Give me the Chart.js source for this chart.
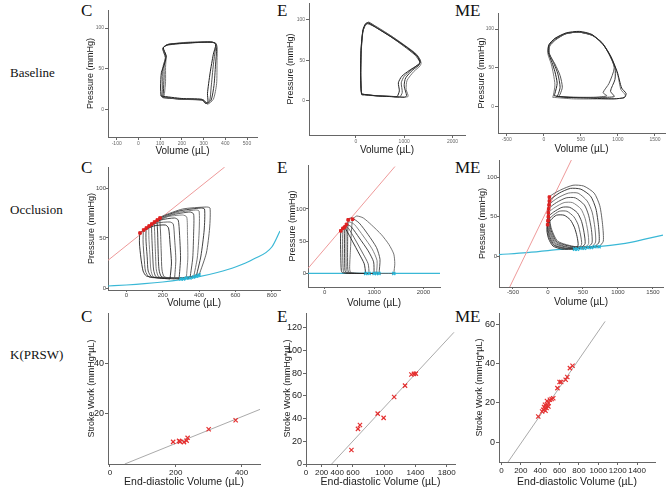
<!DOCTYPE html>
<html>
<head>
<meta charset="utf-8">
<script src="https://cdn.jsdelivr.net/npm/chart.js"></script>
<style>
  body { margin: 0; background: #fff; }
  #fig { position: relative; width: 669px; height: 489px; overflow: hidden; }
  #fig canvas { position: absolute; }
  .lbl { position: absolute; font-family: "Liberation Serif", serif; color: #111; line-height: 1; white-space: nowrap; }
</style>
</head>
<body>
<div id="fig"></div>
<script>
// ---- row / panel labels
const rowLabels = ['Baseline', 'Occlusion', 'K(PRSW)'];
const groupLabels = ['C', 'E', 'ME'];

// ---- Baseline PV loops (volume µL, pressure mmHg)
const cBaseLoops = [
  [[104,17],[200,14],[292,13],[308,8],[320,10],[318,20],[330,45],[345,68],[356,80],[340,83],[240,82],[140,80],[115,76],[128,66],[120,56],[106,46],[102,28],[104,17]],
  [[108,16],[200,13],[295,12],[312,8],[328,11],[335,28],[345,55],[355,75],[358,81],[330,83],[230,82],[135,80],[113,75],[126,65],[115,55],[110,45],[110,25],[108,16]],
  [[112,15],[200,13],[300,12],[316,8],[335,12],[348,30],[355,55],[360,76],[352,82],[250,82],[130,79],[112,75],[124,64],[118,54],[118,40],[115,22],[112,15]],
  [[116,15],[210,13],[300,12],[318,7],[345,13],[360,32],[362,60],[362,78],[350,82],[250,83],[135,80],[114,76],[127,66],[125,52],[125,35],[120,20],[116,15]]
];
const eBaseLoops = [
  [[120,8],[400,6],[700,5],[850,5],[900,12],[880,22],[950,30],[1100,37],[1280,44],[1330,47],[1270,55],[1050,66],[750,78],[450,89],[260,96],[200,95],[150,88],[110,65],[100,35],[108,15],[120,8]],
  [[125,7],[400,6],[750,5],[900,4],[960,10],[940,22],[1000,30],[1150,38],[1300,45],[1340,49],[1250,57],[1030,67],[750,79],[450,90],[270,97],[210,95],[150,86],[115,63],[105,35],[112,14],[125,7]],
  [[118,8],[420,6],[800,5],[1000,4],[1050,6],[1000,18],[1030,28],[1180,38],[1310,44],[1320,48],[1230,56],[1000,67],[720,79],[430,90],[250,95],[195,93],[140,84],[108,60],[98,30],[110,13],[118,8]],
  [[122,8],[450,6],[850,5],[1080,5],[1040,14],[1060,25],[1200,36],[1330,43],[1350,47],[1260,57],[1020,68],[730,80],[440,91],[265,96],[205,94],[150,87],[112,62],[103,32],[112,13],[122,8]]
];
const meBaseLoops = [
  [[140,14],[300,12],[600,11],[950,10],[1090,12],[1110,17],[1050,24],[990,45],[900,65],[800,80],[650,93],[480,97],[300,95],[150,88],[70,80],[60,70],[110,57],[150,45],[180,30],[150,17],[140,14]],
  [[200,13],[400,12],[700,12],[850,14],[800,18],[880,30],[950,50],[880,68],[780,83],[650,92],[470,96],[300,94],[160,86],[80,78],[75,68],[150,55],[220,40],[250,25],[220,16],[200,13]],
  [[170,13],[400,12],[750,12],[950,13],[900,20],[960,35],[960,50],[890,66],[790,82],[650,92],[470,96],[300,94],[160,87],[75,79],[68,70],[130,57],[190,42],[220,25],[190,15],[170,13]],
  [[120,12],[400,10],[800,10],[1080,11],[1100,15],[1040,22],[1000,40],[920,62],[820,78],[660,92],[480,96],[290,94],[140,87],[62,78],[55,68],[100,55],[130,42],[150,28],[130,15],[120,12]]
];

// ---- Occlusion PV loops + ESPVR / EDPVR
const cOccLoops = [
  [[240,9],[248,25],[240,45],[232,60],[215,63],[150,62],[90,57],[75,55],[72,45],[80,30],[92,17],[110,12],[180,10],[240,9]],
  [[265,9],[272,28],[265,50],[258,64],[240,66],[170,65],[110,60],[95,58],[92,46],[98,30],[105,17],[125,11],[200,10],[265,9]],
  [[290,9],[298,30],[292,55],[285,68],[265,70],[190,68],[125,62],[110,60],[108,48],[115,30],[120,17],[140,11],[220,10],[290,9]],
  [[330,10],[338,30],[336,55],[332,71],[310,73],[220,71],[140,64],[125,62],[124,50],[130,32],[135,18],[150,11],[250,10],[330,10]],
  [[350,10],[365,30],[370,55],[370,74],[350,76],[250,73],[155,66],[140,64],[140,52],[145,32],[150,18],[165,11],[270,10],[350,10]],
  [[370,11],[390,30],[400,55],[400,77],[380,78],[270,75],[170,68],[155,66],[156,54],[160,35],[165,18],[180,11],[280,10],[370,11]],
  [[385,12],[410,32],[428,58],[430,79],[410,80],[290,77],[185,70],[170,68],[172,55],[175,35],[180,18],[195,11],[300,10],[385,12]],
  [[400,13],[440,35],[458,60],[460,80],[440,81],[310,79],[200,72],[185,70],[188,56],[192,35],[196,18],[210,11],[320,10],[400,13]]
];
const cEsX = [75, 95, 110, 125, 140, 155, 170, 185];
const cEsY = [55, 58, 60, 62, 64, 66, 68, 70];
const cEdX = [300, 315, 330, 350, 370, 385, 400];
const cEdY = [9, 9, 10, 10, 11, 12, 13];
const cEspvrX = [-101, 541];
const cEspvrY = [27.7, 121];
const cEdpvrX = [-101, 0, 100, 200, 300, 400, 500, 600, 700, 800, 845];
const cEdpvrY = [2, 3, 4.3, 6, 8.3, 11.3, 15.5, 21, 29, 41, 57];

const eOccLoops = [
  [[830,0],[800,15],[700,30],[560,50],[430,68],[370,72],[335,68],[325,66],[320,50],[325,25],[335,5],[360,1],[600,0],[830,0]],
  [[900,0],[880,15],[780,30],[620,52],[480,70],[410,74],[380,72],[370,70],[362,50],[365,25],[375,5],[400,1],[650,0],[900,0]],
  [[1000,0],[990,18],[880,35],[700,55],[540,72],[450,76],[415,74],[407,72],[400,52],[402,25],[410,5],[440,1],[700,0],[1000,0]],
  [[1050,0],[1060,20],[960,38],[780,58],[600,76],[490,80],[450,78],[440,76],[432,55],[432,28],[440,6],[470,1],[750,0],[1050,0]],
  [[1100,0],[1120,22],[1050,40],[880,60],[700,78],[550,86],[490,85],[474,83],[465,60],[462,30],[468,6],[500,1],[800,0],[1100,0]],
  [[1400,0],[1420,15],[1400,30],[1300,45],[1150,60],[950,75],[780,86],[650,89],[590,86],[563,84],[540,65],[520,35],[505,8],[530,1],[900,0],[1400,0]]
];
const eEsX = [325, 370, 407, 440, 474, 563];
const eEsY = [66, 70, 72, 76, 83, 84];
const eEdX = [830, 900, 1000, 1050, 1100, 1400];
const eEdY = [0, 0, 0, 0, 0, 0];
const eEspvrX = [-340, 1423];
const eEspvrY = [7.8, 165.6];
const eEdpvrX = [-340, 2337];
const eEdpvrY = [0, 0];

const meOccLoops = [
  [[380,9],[430,14],[415,25],[380,36],[320,46],[230,52],[120,52],[40,46],[-5,40],[-15,32],[10,22],[70,13],[200,9],[380,9]],
  [[420,9],[480,15],[465,27],[430,40],[370,50],[270,57],[160,57],[60,51],[0,45],[-12,36],[15,24],[80,14],[220,10],[420,9]],
  [[470,10],[530,16],[515,30],[480,44],[420,55],[310,62],[200,62],[80,56],[5,50],[-10,40],[20,26],[90,14],[250,10],[470,10]],
  [[520,10],[580,16],[568,32],[530,48],[470,60],[350,68],[230,68],[100,62],[5,55],[-8,44],[25,28],[100,15],[280,10],[520,10]],
  [[570,11],[630,17],[620,34],[580,52],[520,65],[390,74],[260,74],[120,68],[10,60],[-5,48],[30,30],[110,16],[300,11],[570,11]],
  [[620,11],[680,18],[670,36],[630,56],[560,70],[430,80],[290,80],[140,74],[15,65],[0,52],[35,32],[120,17],[330,11],[620,11]],
  [[670,12],[730,18],[722,38],[685,60],[610,76],[470,85],[320,86],[160,80],[20,70],[5,56],[40,34],[130,18],[360,12],[670,12]],
  [[730,12],[790,19],[780,40],[740,64],[660,80],[510,89],[357,90],[180,84],[20,75],[10,60],[45,36],[140,19],[400,12],[730,12]]
];
const meEsX = [-5, 0, 5, 5, 10, 15, 20, 20];
const meEsY = [40, 45, 50, 55, 60, 65, 70, 75];
const meEdX = [380, 420, 470, 520, 570, 620, 670, 730];
const meEdY = [9, 9, 10, 10, 11, 11, 12, 12];
const meEspvrX = [-547, 334];
const meEspvrY = [-39, 122];
const meEdpvrX = [-700, -300, 0, 310, 500, 786, 1000, 1200, 1400, 1643];
const meEdpvrY = [2, 4.5, 7, 10, 11, 12.7, 15, 18, 22, 26.7];

// ---- PRSW: end-diastolic volume vs stroke work
const cEdv = [192, 210, 213, 225, 233, 236, 300, 382];
const cSw = [8.8, 9.2, 8.9, 8.7, 9.3, 10.4, 13.8, 17.4];
const cFitX = [45, 456];
const cFitY = [0, 21.7];
const eEdv = [581, 665, 690, 917, 993, 1128, 1267, 1348, 1381, 1405];
const eSw = [12.3, 30.9, 34.4, 44.4, 40.6, 59, 69, 78.8, 79.4, 79.6];
const eFitX = [328, 1893];
const eFitY = [0, 116];
const meEdv = [380, 420, 432, 440, 450, 455, 466, 470, 477, 485, 487, 500, 518, 535, 578, 600, 617, 663, 680, 707, 734];
const meSw = [13.1, 15.6, 16.5, 17.9, 19.1, 16, 17.4, 21, 18.6, 18.2, 20, 21.6, 22, 22.4, 27.6, 30.7, 30.7, 31.9, 33.3, 37.8, 39];
const meFitX = [68, 1070];
const meFitY = [-10.2, 61.7];

// ---- tick values
const pvYTicks = [0, 50, 100];
const cBaseXTicks = [-100, 0, 100, 200, 300, 400, 500];
const eXTicks = [0, 1000, 2000];
const meXTicks = [-500, 0, 500, 1000, 1500];
const cOccXTicks = [0, 200, 400, 600, 800];
const cPrswXTicks = [0, 200, 400];
const cPrswYTicks = [20, 40];
const ePrswXTicks = [0, 200, 400, 600, 1000, 1400, 1800];
const ePrswYTicks = [0, 20, 40, 60, 80, 100, 120];
const mePrswXTicks = [0, 200, 400, 600, 800, 1000, 1200, 1400];
const mePrswYTicks = [0, 20, 40, 60];

const fig = document.getElementById('fig');
const pairs = arr => arr.map(([x, y]) => ({ x, y }));
const zip = (xs, ys) => xs.map((x, i) => ({ x, y: ys[i] }));
const loopGrays = ['#222', '#555', '#333', '#777', '#444', '#666', '#2a2a2a', '#555'];

function label(text, left, top, size) {
  const d = document.createElement('div');
  d.className = 'lbl';
  d.textContent = text;
  d.style.left = left + 'px';
  d.style.top = top + 'px';
  d.style.fontSize = size + 'px';
  fig.appendChild(d);
}

function loopSets(loops, width) {
  return loops.map((l, i) => ({
    data: pairs(l), showLine: true, borderColor: loopGrays[i % loopGrays.length],
    borderWidth: width, tension: 0.22, pointRadius: 0
  }));
}
function lineSet(xs, ys, color, width, curve) {
  return {
    data: zip(xs, ys), showLine: true, borderColor: color, borderWidth: width,
    pointRadius: 0, tension: curve ? 0.4 : 0, cubicInterpolationMode: curve ? 'monotone' : 'default'
  };
}
function markSet(xs, ys, color, style, r, bw) {
  return {
    data: zip(xs, ys), showLine: false, pointStyle: style, pointRadius: r,
    borderColor: color, backgroundColor: color, pointBorderWidth: bw
  };
}

function axis(min, max, ticks, title, o, horizontal) {
  return {
    type: 'linear', min, max,
    afterBuildTicks: s => { s.ticks = ticks.map(v => ({ value: v })); },
    afterFit: s => {
      if (horizontal) { s.height = o.size; s.paddingLeft = 0; s.paddingRight = 0; }
      else { s.width = o.size; s.paddingTop = 0; s.paddingBottom = 0; }
    },
    border: { color: '#666', width: 1 },
    grid: { drawOnChartArea: false, drawTicks: true, tickLength: o.tickLen, color: '#666' },
    ticks: {
      autoSkip: false, maxRotation: 0, padding: o.tickPad, color: o.tickColor,
      font: { size: o.tickSize, family: 'Liberation Sans' },
      callback: v => String(v)
    },
    title: {
      display: true, text: title, color: '#222', padding: 0,
      font: { size: o.titleSize, family: 'Liberation Sans' }
    }
  };
}

function panel(box, datasets, xs, ys) {
  const padT = 6, padR = 12;
  const c = document.createElement('canvas');
  c.width = box.right - box.left + box.wY + padR;
  c.height = box.bottom - box.top + box.hX + padT;
  c.style.left = (box.left - box.wY) + 'px';
  c.style.top = (box.top - padT) + 'px';
  fig.appendChild(c);
  const common = { tickColor: box.tickColor, tickLen: box.tickLen, tickPad: box.tickPad };
  new Chart(c, {
    type: 'scatter',
    data: { datasets },
    options: {
      responsive: false, animation: false, devicePixelRatio: 1,
      layout: { padding: { left: 0, top: padT, right: padR, bottom: 0 } },
      plugins: { legend: { display: false }, tooltip: { enabled: false } },
      scales: {
        x: axis(xs.min, xs.max, xs.ticks, xs.title, { ...common, tickSize: box.xTick, size: box.hX, titleSize: box.xTitle }, true),
        y: axis(ys.min, ys.max, ys.ticks, ys.title, { ...common, tickSize: box.yTick, size: box.wY, titleSize: box.yTitle }, false)
      }
    }
  });
}

// labels
label(rowLabels[0], 10, 66, 13);
label(rowLabels[1], 10, 203, 13);
label(rowLabels[2], 10, 348, 13);
[2, 159, 308].forEach(t => {
  label(groupLabels[0], 81, t, 17);
  label(groupLabels[1], 277, t, 17);
  label(groupLabels[2], 455, t, 17);
});

const P = 'Pressure (mmHg)', V = 'Volume (\u00b5L)';
const SW = 'Stroke Work (mmHg*\u00b5L)', EDV = 'End-diastolic Volume (\u00b5L)';
const row1 = { xTick: 5, yTick: 5, tickColor: '#666', tickLen: 3, tickPad: 1, xTitle: 10, yTitle: 9 };
const row2 = { xTick: 6, yTick: 6, tickColor: '#444', tickLen: 2, tickPad: 0, xTitle: 10, yTitle: 9 };
const row3 = { xTick: 8, yTick: 9, tickColor: '#222', tickLen: 3, tickPad: 1, xTitle: 10.5, yTitle: 9 };

// Baseline row
panel({ left: 108, right: 257, top: 10, bottom: 137, wY: 23, hX: 20, ...row1 },
  loopSets(cBaseLoops, 1),
  { min: -140, max: 546, ticks: cBaseXTicks, title: V }, { min: -33, max: 122, ticks: pvYTicks, title: P });
panel({ left: 309, right: 465, top: 3, bottom: 135, wY: 24, hX: 21, ...row1 },
  loopSets(eBaseLoops, 1),
  { min: -967, max: 2257, ticks: eXTicks, title: V }, { min: -42.5, max: 120.6, ticks: pvYTicks, title: P });
panel({ left: 498, right: 665, top: 13, bottom: 133, wY: 22, hX: 22, ...row1 },
  loopSets(meBaseLoops, 1),
  { min: -618, max: 1635, ticks: meXTicks, title: V }, { min: -34, max: 120.7, ticks: pvYTicks, title: P });

// Occlusion row
panel({ left: 108, right: 280, top: 167, bottom: 290, wY: 22, hX: 19, ...row2 },
  [markSet(cEsX, cEsY, '#e02020', 'rect', 1.8, 1), markSet(cEdX, cEdY, '#26b5d6', 'crossRot', 2.2, 1.3),
   ...loopSets(cOccLoops, 0.9),
   lineSet(cEspvrX, cEspvrY, '#ee9a9a', 1, false), lineSet(cEdpvrX, cEdpvrY, '#3ab8d6', 1.2, true)],
  { min: -101, max: 845, ticks: cOccXTicks, title: V }, { min: -2, max: 121, ticks: pvYTicks, title: P });
panel({ left: 308, right: 440, top: 165, bottom: 287, wY: 21, hX: 22, ...row2 },
  [markSet(eEsX, eEsY, '#e02020', 'rect', 1.8, 1), markSet(eEdX, eEdY, '#26b5d6', 'crossRot', 2.2, 1.3),
   ...loopSets(eOccLoops, 0.9),
   lineSet(eEspvrX, eEspvrY, '#ee9a9a', 1, false), lineSet(eEdpvrX, eEdpvrY, '#3ab8d6', 1.2, false)],
  { min: -340, max: 2337, ticks: eXTicks, title: V }, { min: -21, max: 168, ticks: pvYTicks, title: P });
panel({ left: 499, right: 663, top: 160, bottom: 287, wY: 22, hX: 21, ...row2 },
  [markSet(meEsX, meEsY, '#e02020', 'rect', 1.8, 1), markSet(meEdX, meEdY, '#26b5d6', 'crossRot', 2.2, 1.3),
   ...loopSets(meOccLoops, 0.9),
   lineSet(meEspvrX, meEspvrY, '#ee9a9a', 1, false), lineSet(meEdpvrX, meEdpvrY, '#3ab8d6', 1.2, true)],
  { min: -700, max: 1643, ticks: meXTicks, title: V }, { min: -39, max: 122, ticks: pvYTicks, title: P });

// PRSW row
panel({ left: 108, right: 260, top: 313, bottom: 464, wY: 22, hX: 24, ...row3 },
  [markSet(cEdv, cSw, '#e53030', 'crossRot', 3, 1.2), lineSet(cFitX, cFitY, '#aaa', 1, false)],
  { min: -6, max: 456, ticks: cPrswXTicks, title: EDV }, { min: 0, max: 60, ticks: cPrswYTicks, title: SW });
panel({ left: 306, right: 455, top: 313, bottom: 464, wY: 24, hX: 24, ...row3 },
  [markSet(eEdv, eSw, '#e53030', 'crossRot', 3, 1.2), lineSet(eFitX, eFitY, '#aaa', 1, false)],
  { min: 0, max: 1906, ticks: ePrswXTicks, title: EDV }, { min: 0, max: 133, ticks: ePrswYTicks, title: SW });
panel({ left: 499, right: 655, top: 313, bottom: 462, wY: 25, hX: 26, ...row3 },
  [markSet(meEdv, meSw, '#e53030', 'crossRot', 3, 1.2), lineSet(meFitX, meFitY, '#aaa', 1, false)],
  { min: -25, max: 1585, ticks: mePrswXTicks, title: EDV }, { min: -10.2, max: 66, ticks: mePrswYTicks, title: SW });
</script>
</body>
</html>
